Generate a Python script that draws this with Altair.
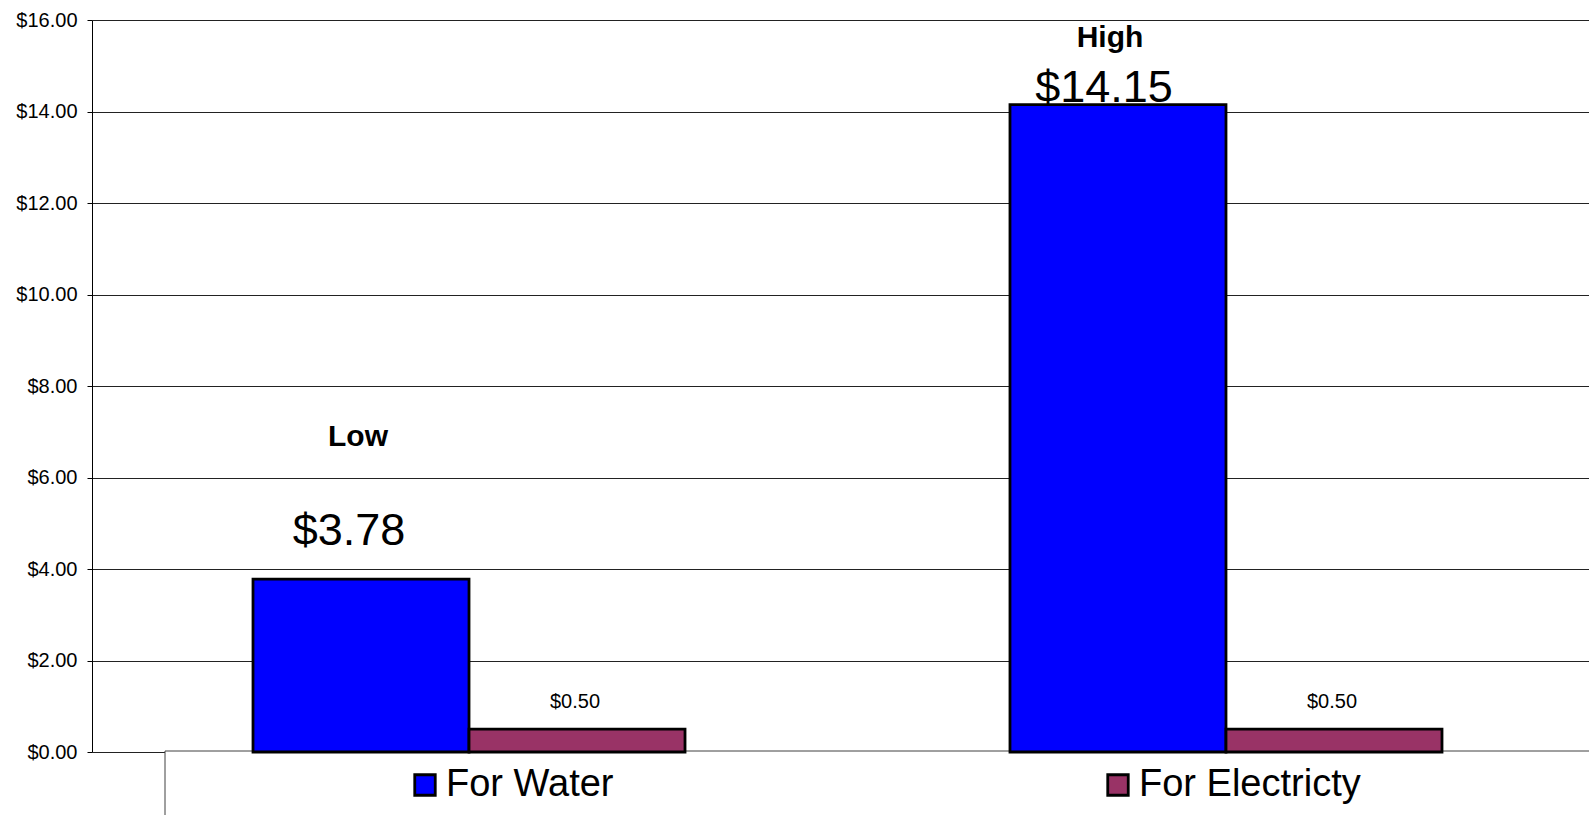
import altair as alt
import pandas as pd

# ---- data ----
categories = ["Low", "High"]
series = ["For Water", "For Electricty"]
water = [3.78, 14.15]
electricity = [0.50, 0.50]
y_ticks = [0, 2, 4, 6, 8, 10, 12, 14, 16]
colors = ["#0000FF", "#993366"]

rows = []
for i, c in enumerate(categories):
    rows.append({"category": c, "series": series[0], "value": water[i]})
    rows.append({"category": c, "series": series[1], "value": electricity[i]})
df = pd.DataFrame(rows)

FONT = "Liberation Sans"
W, H = 1497, 732

x_enc = alt.X("category:N", sort=categories, axis=None,
              scale=alt.Scale(range=[0, 1511], paddingInner=0.4293, paddingOuter=0.2127))
xo_enc = alt.XOffset("series:N", sort=series,
                     scale=alt.Scale(paddingInner=0, paddingOuter=0))
y_enc = alt.Y("value:Q",
              scale=alt.Scale(domain=[0, 16], nice=False, zero=True),
              axis=alt.Axis(values=y_ticks, format="$.2f", title=None,
                            labelFont=FONT, labelFontSize=20, labelColor="black",
                            labelPadding=10, tickSize=5, tickColor="black",
                            domainColor="black", domainWidth=1,
                            grid=True, gridColor="#222222", gridWidth=1))

base = alt.Chart(df)

frame = alt.Chart(pd.DataFrame({"k": [0]})).mark_rect(
    fill="white", stroke="#404040", strokeWidth=1
).encode(x=alt.value(73), x2=alt.value(1600), y=alt.value(731), y2=alt.value(900))

bars = base.mark_bar(stroke="black", strokeWidth=2.8).encode(
    x=x_enc, xOffset=xo_enc, y=y_enc,
    color=alt.Color("series:N", sort=series,
                    scale=alt.Scale(domain=series, range=colors),
                    legend=alt.Legend(title=None, orient="none", legendX=314, legendY=746,
                                      direction="horizontal", symbolType="square",
                                      symbolSize=420, symbolStrokeColor="black",
                                      symbolStrokeWidth=2.8, symbolOpacity=1,
                                      labelFont=FONT, labelFontSize=38, labelColor="black",
                                      labelOffset=2, columnPadding=485, labelLimit=400)),
)


def text_layer(cat, ser, text_field, fmt, size, bold, dx, dy):
    t = alt.Text(text_field, format=fmt) if fmt else alt.Text(text_field)
    flt = alt.datum.series == ser
    if cat is not None:
        flt = (alt.datum.category == cat) & (alt.datum.series == ser)
    return base.transform_filter(flt).mark_text(
        font=FONT, fontSize=size, fontWeight="bold" if bold else "normal",
        color="black", align="center", baseline="alphabetic", dx=dx, dy=dy
    ).encode(x=x_enc, xOffset=xo_enc, y=y_enc, text=t)


val_low = text_layer("Low", "For Water", "value:Q", "$.2f", 45, False, -12, -34)
val_high = text_layer("High", "For Water", "value:Q", "$.2f", 45, False, -14, -3)
val_elec = text_layer(None, "For Electricty", "value:Q", "$.2f", 20, False, -2, -21)
cat_low = text_layer("Low", "For Water", "category:N", None, 30, True, -3, -133)
cat_high = text_layer("High", "For Water", "category:N", None, 30, True, -8, -58)

chart = alt.layer(frame, bars, val_low, val_high, val_elec, cat_low, cat_high).properties(
    width=W, height=H,
    autosize=alt.AutoSizeParams(type="none"),
    padding={"left": 92, "top": 20, "right": 0, "bottom": 63},
).configure_view(stroke=None).configure(background="white")

chart.save("out.html", embed_options={"renderer": "svg", "actions": False})
